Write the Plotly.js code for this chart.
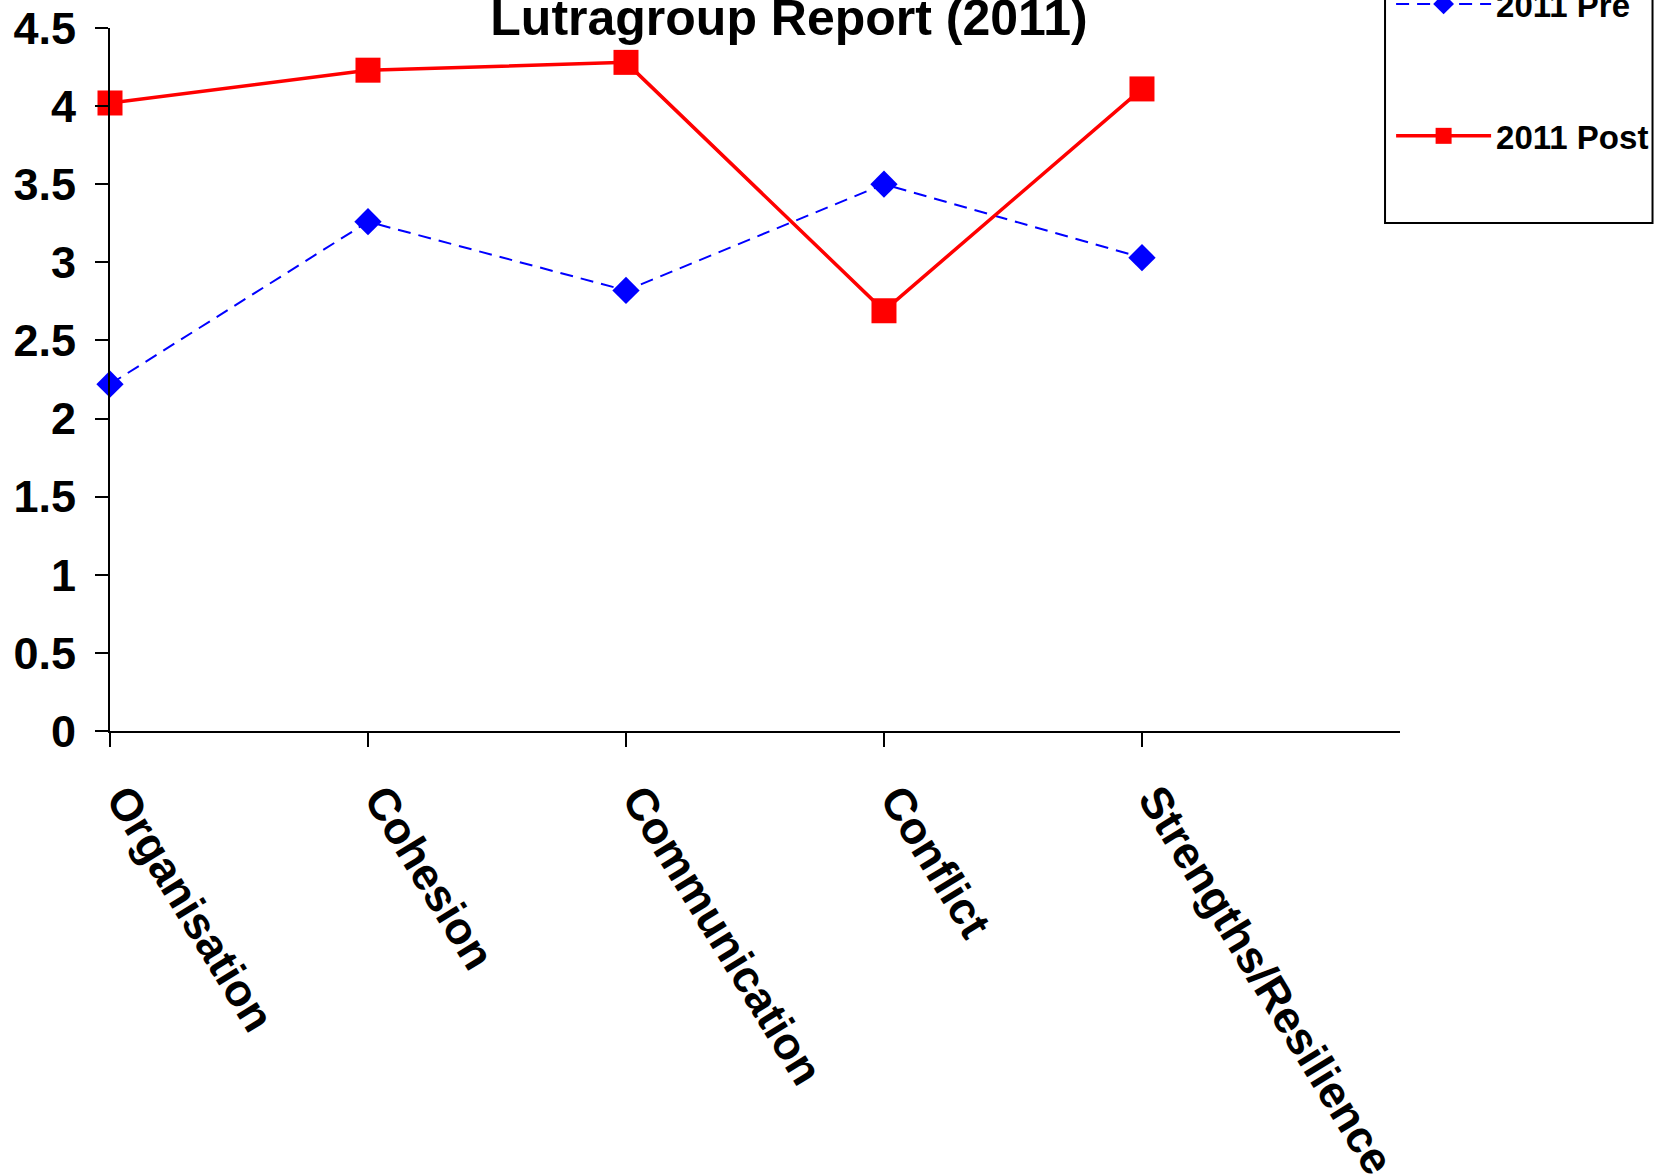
<!DOCTYPE html>
<html>
<head>
<meta charset="utf-8">
<script src="https://cdn.plot.ly/plotly-3.0.1.min.js"></script>
<style>
  html, body { margin: 0; padding: 0; background: #ffffff; }
  #chart { width: 1667px; height: 1176px; }
</style>
</head>
<body>
<div id="chart"></div>
<script>
// ---- Data ----
const categories = ["Organisation", "Cohesion", "Communication", "Conflict", "Strengths/Resilience"];
const categoryPositions = [0, 1, 2, 3, 4];
const pre2011 = [2.22, 3.26, 2.82, 3.50, 3.03];
const post2011 = [4.02, 4.23, 4.28, 2.69, 4.11];
const seriesNames = ["2011 Pre", "2011 Post"];
const yTickValues = [0, 0.5, 1, 1.5, 2, 2.5, 3, 3.5, 4, 4.5];
const yTickLabels = ["0", "0.5", "1", "1.5", "2", "2.5", "3", "3.5", "4", "4.5"];
const chartTitle = "Lutragroup Report (2011)";

const FONT = "Liberation Sans, Arial, sans-serif";

const traces = [
  {
    x: categoryPositions, y: pre2011, name: seriesNames[0],
    type: "scatter", mode: "lines+markers",
    legendgroup: "pre",
    line: { color: "#0000FF", width: 2, dash: "13px,8px" },
    marker: { symbol: "diamond", size: 21, color: "#0000FF" },
    cliponaxis: false
  },
  {
    x: categoryPositions, y: post2011, name: seriesNames[1],
    type: "scatter", mode: "lines+markers",
    legendgroup: "post",
    line: { color: "#FF0000", width: 3.5 },
    marker: { symbol: "square", size: 25, color: "#FF0000" },
    cliponaxis: false
  }
];

const layout = {
  width: 1667, height: 1176,
  paper_bgcolor: "#ffffff", plot_bgcolor: "#ffffff",
  margin: { l: 110, r: 0, t: 28, b: 445, autoexpand: false },
  font: { family: FONT, color: "#000000", weight: "bold" },
  title: {
    text: chartTitle,
    font: { family: FONT, size: 50, color: "#000000", weight: "bold" },
    xref: "container", yref: "container",
    x: 0.4733, xanchor: "center",
    y: 0.985, yanchor: "middle"
  },
  xaxis: {
    domain: [0, 0.8285],
    range: [0, 5],
    tickmode: "array",
    tickvals: categoryPositions,
    ticktext: categories,
    tickangle: 58.6,
    ticks: "outside", ticklen: 14, tickwidth: 2, tickcolor: "#000000",
    showline: true, linecolor: "#000000", linewidth: 2,
    showgrid: false, zeroline: false,
    ticklabelstandoff: 8,
    ticklabelshift: 14,
    tickfont: { family: FONT, size: 45, color: "#000000", weight: "bold" },
    fixedrange: true
  },
  yaxis: {
    range: [0, 4.5],
    tickmode: "array",
    tickvals: yTickValues,
    ticktext: yTickLabels,
    ticks: "outside", ticklen: 13, tickwidth: 2, tickcolor: "#000000",
    showline: true, linecolor: "#000000", linewidth: 2,
    showgrid: false, zeroline: false,
    ticklabelstandoff: 10,
    tickfont: { family: FONT, size: 45, color: "#000000", weight: "bold" },
    fixedrange: true
  },
  showlegend: true,
  legend: {
    xref: "paper", yref: "paper",
    x: 0.8228, xanchor: "left",
    y: 1.074, yanchor: "top",
    bgcolor: "rgba(0,0,0,0)",
    borderwidth: 0,
    itemwidth: 95,
    traceorder: "grouped",
    tracegroupgap: 86,
    font: { family: FONT, size: 33, color: "#000000", weight: "bold" }
  },
  shapes: [
    {
      type: "rect", xref: "paper", yref: "paper",
      x0: 0.8189, x1: 0.9907, y0: 0.7226, y1: 1.06,
      line: { color: "#000000", width: 2 },
      fillcolor: "rgba(0,0,0,0)",
      layer: "below"
    }
  ]
};

Plotly.newPlot("chart", traces, layout, { displayModeBar: false, staticPlot: true });
</script>
</body>
</html>
